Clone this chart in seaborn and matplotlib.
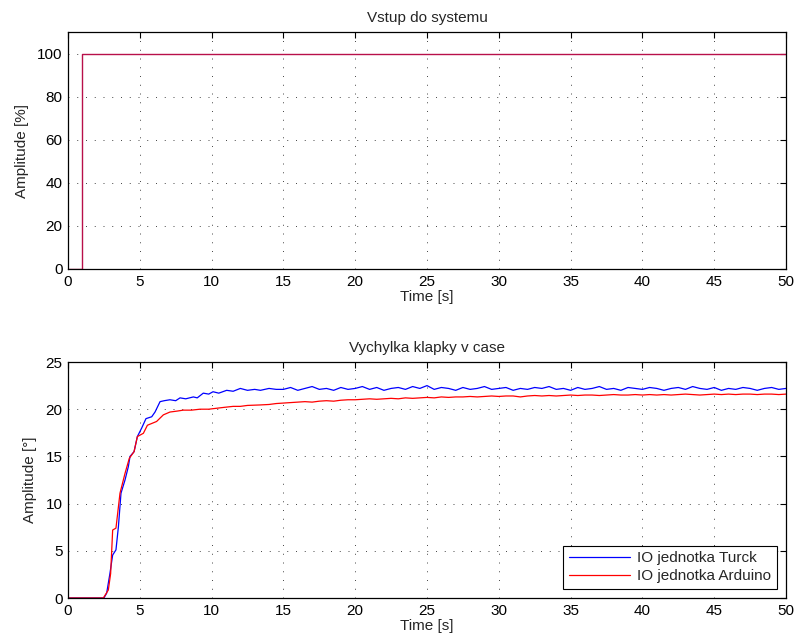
import numpy as np
import pandas as pd
import matplotlib
matplotlib.use("Agg")
import matplotlib.pyplot as plt
import seaborn as sns

# ---- data ----
input_time = [0, 1, 1, 50]
input_value = [0, 0, 100, 100]

blue_time_early = [0, 2.5, 2.69, 2.92, 3.11, 3.34, 3.51, 3.69, 3.97, 4.2, 4.32, 4.6, 4.83,
                   5.13, 5.43, 5.83, 6.06, 6.41, 6.7, 7.1, 7.5, 7.8, 8.2, 8.73, 9.0, 9.42,
                   9.8, 10.1, 10.5, 11.05, 11.5, 12.0, 12.5, 13.0, 13.4, 14.0, 14.5]
blue_val_early = [0, 0, 0.5, 2.6, 4.55, 5.1, 7.55, 11.1, 12.5, 13.9, 15.0, 15.5, 17.1,
                  18.0, 19.0, 19.2, 19.7, 20.8, 20.9, 21.0, 20.9, 21.2, 21.1, 21.3, 21.2, 21.7,
                  21.6, 21.85, 21.7, 22.0, 21.9, 22.2, 22.0, 22.1, 22.0, 22.2, 22.1]

plateau_time = [15.0, 15.5, 16.0, 16.5, 17.0, 17.5, 18.0, 18.5, 19.0, 19.5,
                20.0, 20.5, 21.0, 21.5, 22.0, 22.5, 23.0, 23.5, 24.0, 24.5,
                25.0, 25.5, 26.0, 26.5, 27.0, 27.5, 28.0, 28.5, 29.0, 29.5,
                30.0, 30.5, 31.0, 31.5, 32.0, 32.5, 33.0, 33.5, 34.0, 34.5,
                35.0, 35.5, 36.0, 36.5, 37.0, 37.5, 38.0, 38.5, 39.0, 39.5,
                40.0, 40.5, 41.0, 41.5, 42.0, 42.5, 43.0, 43.5, 44.0, 44.5,
                45.0, 45.5, 46.0, 46.5, 47.0, 47.5, 48.0, 48.5, 49.0, 49.5,
                50.0]
blue_val_plateau = [22.1, 22.3, 22.0, 22.2, 22.4, 22.1, 22.2, 22.0, 22.3, 22.1,
                    22.2, 22.4, 22.1, 22.3, 22.0, 22.2, 22.3, 22.1, 22.4, 22.2,
                    22.5, 22.1, 22.3, 22.2, 22.0, 22.3, 22.1, 22.2, 22.4, 22.1,
                    22.2, 22.3, 22.0, 22.2, 22.1, 22.3, 22.2, 22.4, 22.1, 22.2,
                    22.0, 22.3, 22.1, 22.2, 22.4, 22.1, 22.2, 22.0, 22.3, 22.2,
                    22.1, 22.3, 22.2, 22.0, 22.2, 22.3, 22.1, 22.4, 22.2, 22.1,
                    22.3, 22.0, 22.2, 22.1, 22.3, 22.2, 22.0, 22.2, 22.3, 22.1,
                    22.2]

red_time_early = [0, 2.46, 2.81, 2.97, 3.11, 3.34, 3.62, 3.97, 4.27, 4.6, 4.83, 5.25,
                  5.53, 6.17, 6.64, 7.1, 7.6, 8.03, 8.6, 9.19, 9.8, 10.35, 10.9, 11.5,
                  12.0, 12.5, 13.37, 14.0, 14.5]
red_val_early = [0, 0, 0.85, 2.6, 7.2, 7.4, 11.1, 13.2, 14.8, 15.5, 17.1, 17.45,
                 18.3, 18.7, 19.4, 19.7, 19.8, 19.9, 19.9, 20.0, 20.0, 20.1, 20.2, 20.3,
                 20.3, 20.4, 20.45, 20.5, 20.6]
red_val_plateau = [20.65, 20.7, 20.75, 20.8, 20.75, 20.85, 20.9, 20.85, 20.95, 21.0,
                   21.0, 21.05, 21.1, 21.05, 21.1, 21.15, 21.1, 21.2, 21.15, 21.2,
                   21.25, 21.2, 21.3, 21.25, 21.3, 21.3, 21.35, 21.3, 21.35, 21.4,
                   21.35, 21.4, 21.4, 21.3, 21.4, 21.45, 21.4, 21.45, 21.4, 21.45,
                   21.5, 21.45, 21.5, 21.5, 21.45, 21.5, 21.55, 21.5, 21.5, 21.55,
                   21.5, 21.55, 21.5, 21.55, 21.5, 21.55, 21.6, 21.55, 21.5, 21.55,
                   21.6, 21.55, 21.6, 21.55, 21.6, 21.6, 21.55, 21.6, 21.6, 21.55,
                   21.6]

series_names = ["IO jednotka Turck", "IO jednotka Arduino"]
x_ticks = [0, 5, 10, 15, 20, 25, 30, 35, 40, 45, 50]

# ---- style ----
sns.set_theme(style="white")
plt.rcParams["font.family"] = ["Liberation Sans", "DejaVu Sans"]
FS = 11

fig = plt.figure(figsize=(7.97, 6.43), dpi=100)
ax1 = fig.add_axes([68 / 797, 1 - 269 / 643, 718 / 797, 237 / 643])
ax2 = fig.add_axes([68 / 797, 1 - 598 / 643, 718 / 797, 236 / 643])

df_in = pd.DataFrame({"t": input_time, "v": input_value})
sns.lineplot(data=df_in, x="t", y="v", ax=ax1, color="#b8104a", lw=1.0,
             estimator=None, sort=False)

df = pd.concat([
    pd.DataFrame({"t": blue_time_early + plateau_time,
                  "v": blue_val_early + blue_val_plateau,
                  "s": series_names[0]}),
    pd.DataFrame({"t": red_time_early + plateau_time,
                  "v": red_val_early + red_val_plateau,
                  "s": series_names[1]}),
])
sns.lineplot(data=df, x="t", y="v", hue="s", ax=ax2,
             palette={series_names[0]: "#0000ff", series_names[1]: "#ff0000"},
             lw=0.9, estimator=None, sort=False)

for ax in (ax1, ax2):
    ax.set_xlim(0, 50)
    ax.set_xticks(x_ticks)
    ax.set_xlabel("Time [s]", fontsize=FS, labelpad=1)
    ax.tick_params(direction="in", top=True, right=True, length=4, width=0.8,
                   labelsize=FS, colors="black", pad=4)
    ax.grid(True, color="#444444", linestyle=(0, (1, 8)), linewidth=0.7)
    for sp in ax.spines.values():
        sp.set_color("black")
        sp.set_linewidth(0.9)

ax1.set_ylim(0, 110)
ax1.set_yticks([0, 20, 40, 60, 80, 100])
ax1.set_ylabel("Amplitude [%]", fontsize=FS, labelpad=6)
ax1.set_title("Vstup do systemu", fontsize=FS, pad=7)

ax2.set_ylim(0, 25)
ax2.set_yticks([0, 5, 10, 15, 20, 25])
ax2.set_ylabel("Amplitude [°]", fontsize=FS, labelpad=6)
ax2.set_title("Vychylka klapky v case", fontsize=FS, pad=7)

leg = ax2.legend(loc="lower right", fontsize=FS, frameon=True, fancybox=False,
                 framealpha=1, edgecolor="black", handlelength=4.0,
                 borderaxespad=0.6, borderpad=0.35, labelspacing=0.3, handletextpad=0.5)
leg.get_frame().set_linewidth(0.8)
leg.set_title(None)

fig.savefig("out.png", dpi=100)
